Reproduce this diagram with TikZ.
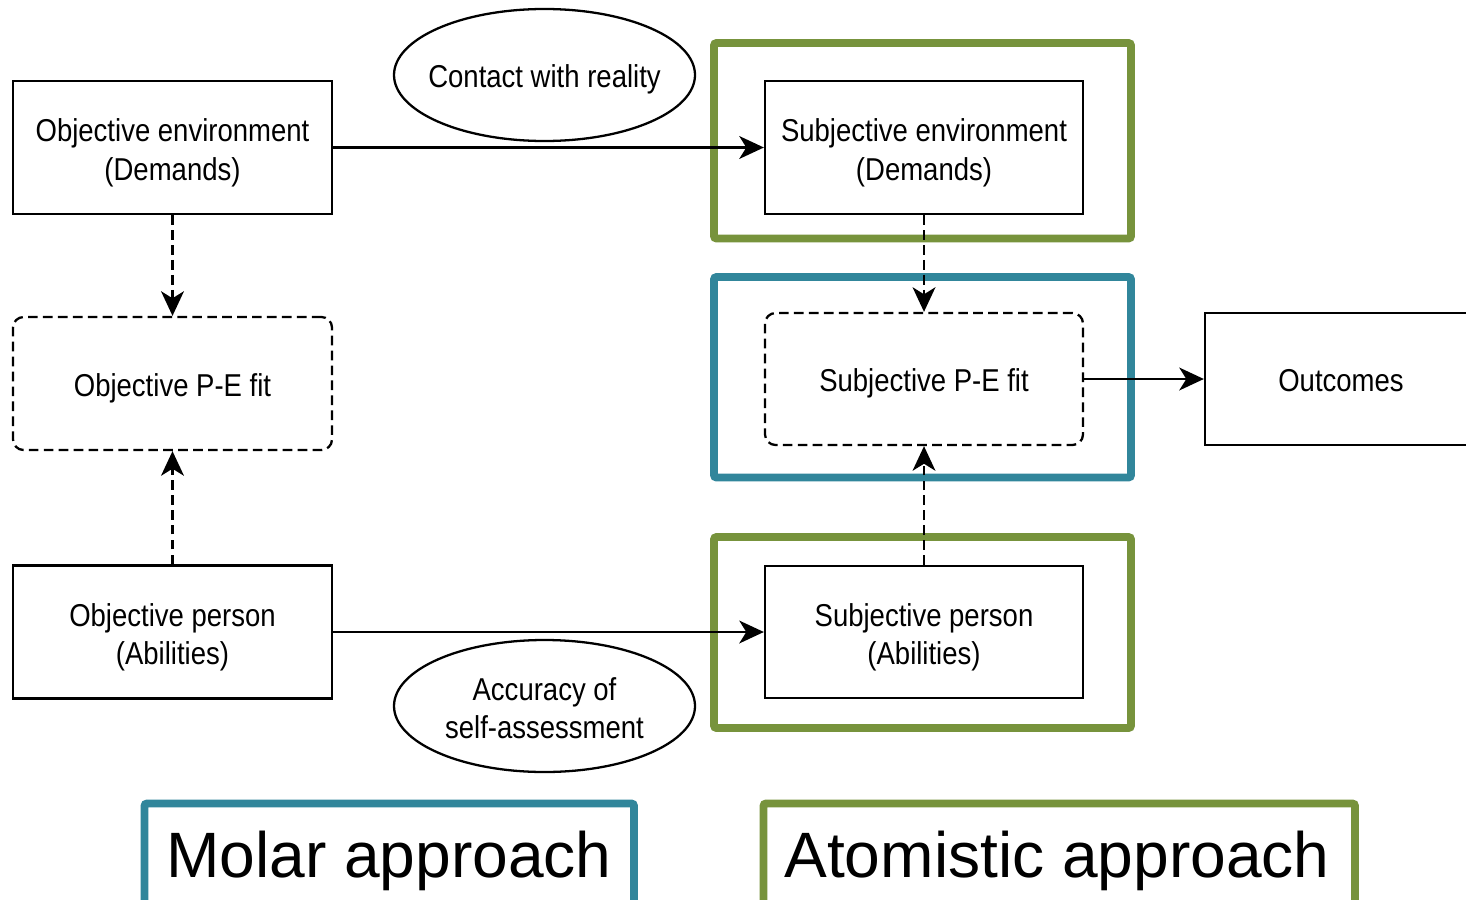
\documentclass[tikz,border=0pt]{standalone}
\usepackage{fontspec}
\setmainfont{Liberation Sans}[FakeStretch=0.87]
\newfontfamily\bigfont{Liberation Sans}
\usetikzlibrary{arrows.meta,shapes.geometric}
\definecolor{pegreen}{HTML}{77933C}
\definecolor{peblue}{HTML}{31869B}
\begin{document}
\begin{tikzpicture}[x=0.02cm,y=-0.02cm,
  txt/.style={align=center,inner sep=0pt,font=\fontsize{18}{22}\selectfont},
  one/.style={text height=17pt,text depth=2.3pt},
  two/.style={text height=39.5pt,text depth=2.3pt},
  box/.style={txt,draw=black,line width=1.3pt,rectangle,minimum width=319*0.02cm,minimum height=133*0.02cm},
  fitbox/.style={box,one,dash pattern=on 5.5pt off 3pt,rounded corners=6pt},
  oval/.style={txt,draw=black,line width=1.3pt,ellipse,inner xsep=-8pt,inner ysep=-14pt,minimum width=301*0.02cm,minimum height=132*0.02cm},
  conn/.style={line width=1.3pt,-{Stealth[length=14pt,width=13pt,inset=4pt]}},
  dconn/.style={conn,dash pattern=on 5.5pt off 3pt},
  frame/.style={line width=4.5pt,rounded corners=1.5pt},
  label/.style={font=\bigfont\fontsize{36.5}{40}\selectfont,inner sep=0pt,anchor=base}
]
\useasboundingbox (0,0) rectangle (1466,899);
% colored frames
\draw[frame,draw=pegreen] (714,43) rectangle (1131,238.5);
\draw[frame,draw=peblue] (714,277) rectangle (1131,477.5);
\draw[frame,draw=pegreen] (714,537) rectangle (1131,728);
\draw[frame,draw=peblue] (144.5,803.5) rectangle (634,915);
\draw[frame,draw=pegreen] (763.5,803.5) rectangle (1355,915);
\node[label] (molar) at (389,877) {Molar approach};
\node[label] (atom) at (1057,877) {Atomistic approach};
% nodes
\node[box,two] (oenv) at (172.5,147.5) {Objective environment\\(Demands)};
\node[fitbox] (opef) at (172.5,383.5) {Objective P-E fit};
\node[box,two] (oper) at (172.5,632) {Objective person\\(Abilities)};
\node[box,two,minimum width=318*0.02cm] (senv) at (924,147.5) {Subjective environment\\(Demands)};
\node[fitbox,minimum width=318*0.02cm,minimum height=132*0.02cm] (spef) at (924,379) {Subjective P-E fit};
\node[box,two,minimum width=318*0.02cm,minimum height=132*0.02cm] (sper) at (924,632) {Subjective person\\(Abilities)};
\node[box,one,minimum width=272*0.02cm,minimum height=132*0.02cm] (outc) at (1341,379) {Outcomes};
\node[oval,one] (contact) at (544.5,75) {Contact with reality};
\node[oval,two] (accur) at (544.5,706) {Accuracy of\\self-assessment};
% connectors
\draw[conn] (oenv.east) -- (senv.west);
\draw[conn] (oper.east) -- (sper.west);
\draw[dconn] (oenv.south) -- (opef.north);
\draw[dconn] (oper.north) -- (opef.south);
\draw[dconn] (senv.south) -- (spef.north);
\draw[dconn] (sper.north) -- (spef.south);
\draw[conn] (spef.east) -- (outc.west);
\end{tikzpicture}
\end{document}
